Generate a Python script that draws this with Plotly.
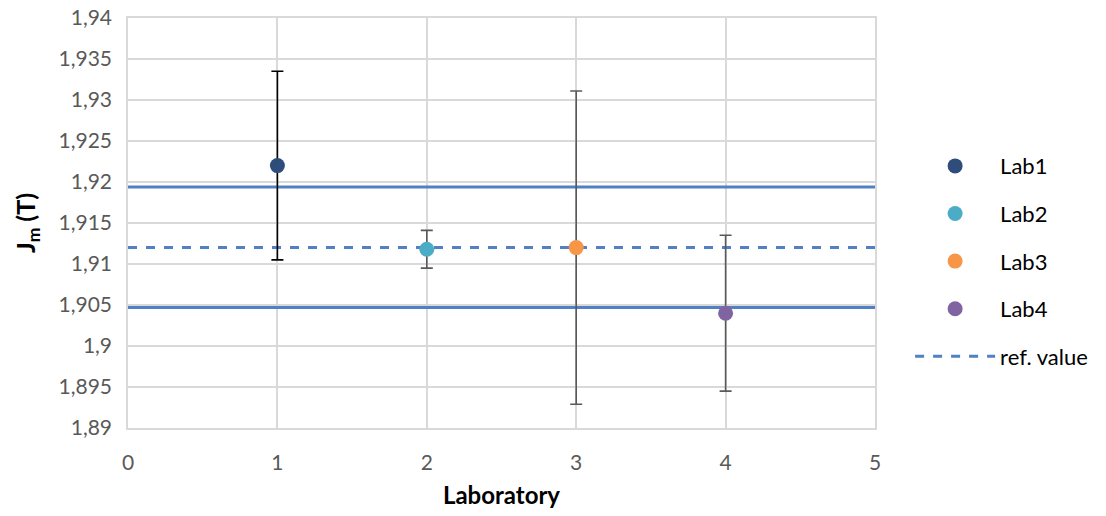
import plotly.graph_objects as go

labs = ["Lab1", "Lab2", "Lab3", "Lab4"]
x_pos = [1, 2, 3, 4]
values = [1.922, 1.9118, 1.912, 1.904]
errors = [0.0115, 0.0023, 0.0191, 0.0095]
colors = ["#2E4D7B", "#4BACC6", "#F79646", "#8064A2"]
err_colors = ["#000000", "#595959", "#595959", "#595959"]
ref_value = 1.912
ref_upper = 1.9194
ref_lower = 1.9047
x_span = [0, 5]
line_color = "#4F81C4"

FONT = "Lato"

fig = go.Figure()

fig.add_trace(go.Scatter(
    x=x_span, y=[ref_upper, ref_upper], mode="lines", showlegend=False,
    line=dict(color=line_color, width=3), hoverinfo="skip"))
fig.add_trace(go.Scatter(
    x=x_span, y=[ref_lower, ref_lower], mode="lines", showlegend=False,
    line=dict(color=line_color, width=3), hoverinfo="skip"))
fig.add_trace(go.Scatter(
    x=x_span, y=[ref_value, ref_value], mode="lines", name="ref. value",
    legendgroup="ref", legendrank=10,
    line=dict(color=line_color, width=3, dash="dash")))

for i, (xl, xv, v, e, c, ec) in enumerate(zip(labs, x_pos, values, errors, colors, err_colors)):
    fig.add_trace(go.Scatter(
        x=[xv], y=[v], mode="markers", name=xl, legendgroup=xl, legendrank=i + 1,
        marker=dict(color=c, size=15),
        error_y=dict(type="data", array=[e], visible=True, color=ec,
                     thickness=1.6, width=6),
    ))

fig.update_layout(
    width=1106, height=516,
    separators=",.",
    paper_bgcolor="white", plot_bgcolor="white",
    margin=dict(l=128, r=231, t=18, b=88, autoexpand=False),
    font=dict(family=FONT, size=21, color="#595959"),
    legend=dict(x=1.047, y=0.69, xanchor="left", yanchor="top",
                font=dict(size=22, color="#000000"), itemwidth=80,
                tracegroupgap=16, traceorder="grouped"),
    xaxis=dict(range=[0, 5], dtick=1, tick0=0, showgrid=True,
               gridcolor="#D9D9D9", gridwidth=1.5, zeroline=False,
               showline=True, linecolor="#D9D9D9", linewidth=1.5, mirror=True,
               ticks="", tickfont=dict(size=21, color="#595959"),
               ticklabelstandoff=15, ticklabeloverflow="allow",
               title=dict(text="<b>Laboratory</b>", standoff=14,
                          font=dict(size=24, color="#000000"))),
    yaxis=dict(range=[1.89, 1.94], dtick=0.005, tick0=1.89, showgrid=True,
               gridcolor="#D9D9D9", gridwidth=1.5, zeroline=False,
               showline=True, linecolor="#D9D9D9", linewidth=1.5, mirror=True,
               ticks="", tickfont=dict(size=21, color="#595959"),
               ticklabelstandoff=10, ticklabeloverflow="allow",
               title=dict(text="<b>J<sub>m</sub> (T)</b>", standoff=16,
                          font=dict(size=25, color="#000000"))),
)

# remove the browser's default 8px body margin so the figure fills the window
fig.write_html("out.html",
               config={"displayModeBar": False},
               post_script="document.body.style.margin='0';document.body.style.overflow='hidden';")
